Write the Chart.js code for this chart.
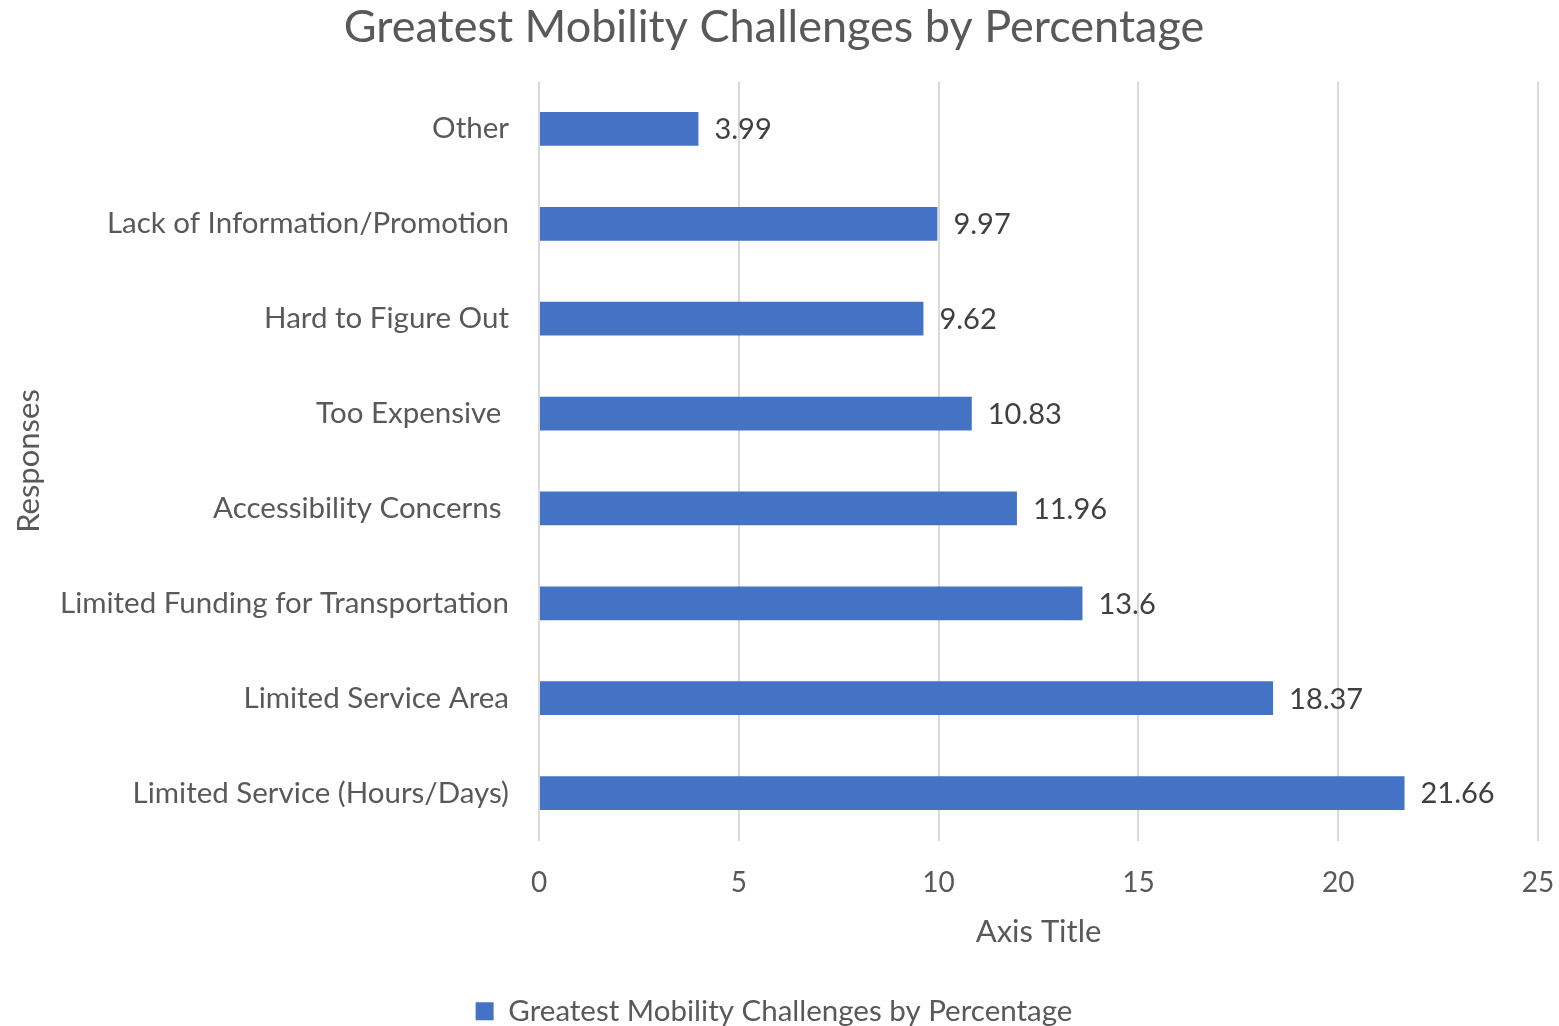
<!DOCTYPE html>
<html>
<head>
<meta charset="utf-8">
<title>Greatest Mobility Challenges by Percentage</title>
<script src="https://cdn.jsdelivr.net/npm/chart.js@4"></script>
<style>
  html, body { margin: 0; padding: 0; background: #fff; }
  #wrap { width: 1559px; height: 1026px; }
</style>
</head>
<body>
<div id="wrap"><canvas id="mobilityChart" width="1559" height="1026"></canvas></div>
<script>
// chart data, top row first as in the picture
const categories = [
	"Other",
	"Lack of Information/Promotion",
	"Hard to Figure Out",
	"Too Expensive ",
	"Accessibility Concerns ",
	"Limited Funding for Transportation",
	"Limited Service Area",
	"Limited Service (Hours/Days)"
];
const percentages = [3.99, 9.97, 9.62, 10.83, 11.96, 13.6, 18.37, 21.66];
const xTicks = [0, 5, 10, 15, 20, 25];
const seriesName = "Greatest Mobility Challenges by Percentage";

const FONT = "Lato, 'Open Sans', sans-serif";
const TEXT = "#595959";

// draws the value next to each bar end
const valueLabels = {
	id: "valueLabels",
	afterDatasetsDraw(chart) {
		const ctx = chart.ctx;
		const meta = chart.getDatasetMeta(0);
		ctx.save();
		ctx.font = "29px " + FONT;
		ctx.fillStyle = "#404040";
		ctx.textAlign = "left";
		ctx.textBaseline = "middle";
		meta.data.forEach((bar, i) => {
			ctx.fillText(String(percentages[i]), bar.x + 16, bar.y + 1);
		});
		ctx.restore();
	}
};

new Chart(document.getElementById("mobilityChart"), {
	type: "bar",
	data: {
		labels: categories,
		datasets: [{
			label: seriesName,
			data: percentages,
			backgroundColor: "#4472C4",
			borderWidth: 0,
			categoryPercentage: 1,
			barPercentage: 0.357
		}]
	},
	options: {
		indexAxis: "y",
		responsive: false,
		animation: false,
		layout: { padding: { left: 10, right: 21, top: 0, bottom: -10 } },
		plugins: {
			title: {
				display: true,
				text: seriesName,
				color: TEXT,
				font: { family: FONT, size: 45, weight: "normal", lineHeight: 1.1 },
				padding: { top: 3, bottom: 29 }
			},
			legend: {
				position: "bottom",
				labels: {
					color: TEXT,
					font: { family: FONT, size: 29.5, lineHeight: 0.9 },
					boxWidth: 18,
					boxHeight: 18,
					padding: 0
				}
			},
			tooltip: { enabled: false }
		},
		scales: {
			x: {
				min: 0,
				max: 25,
				afterBuildTicks(axis) {
					axis.ticks = xTicks.map(v => ({ value: v }));
				},
				grid: { color: "#d9d9d9", lineWidth: 2, drawTicks: false },
				border: { display: false },
				ticks: { color: TEXT, font: { family: FONT, size: 28 }, padding: 26 },
				title: {
					display: true,
					text: "Axis Title",
					color: TEXT,
					font: { family: FONT, size: 31 },
					padding: { top: 0, bottom: 46 }
				},
				afterFit(axis) {
					axis.height = 156;
					axis.paddingRight = 0;
				}
			},
			y: {
				grid: { display: false, drawTicks: false },
				border: { display: false },
				ticks: { color: TEXT, font: { family: FONT, size: 29.5 }, padding: 30 },
				title: {
					display: true,
					text: "Responses",
					color: TEXT,
					font: { family: FONT, size: 31 },
					padding: { top: 0, bottom: 0 }
				},
				afterFit(axis) { axis.width = 529; }
			}
		}
	},
	plugins: [valueLabels]
});
</script>
</body>
</html>
